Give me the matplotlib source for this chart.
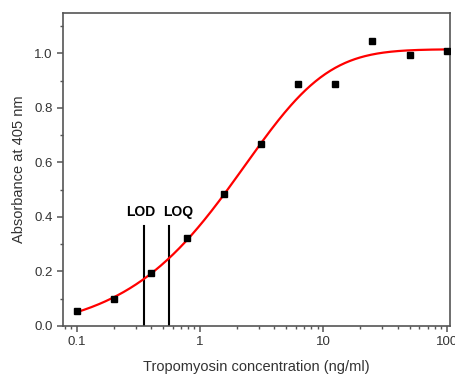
import numpy as np
import matplotlib
matplotlib.use('Agg')
import matplotlib.pyplot as plt
from matplotlib.ticker import LogLocator, MultipleLocator, FixedLocator, NullFormatter

plt.rcParams['font.family'] = ['Liberation Sans', 'DejaVu Sans']

# measured points
conc = [0.1, 0.2, 0.4, 0.78, 1.56, 3.125, 6.25, 12.5, 25, 50, 100]
absorb = [0.054, 0.099, 0.193, 0.321, 0.483, 0.667, 0.887, 0.887, 1.045, 0.994, 1.01]

# fitted curve (5-parameter logistic)
fit_bottom = -0.03
fit_top = 1.015
fit_mid = 13.785
fit_slope = 0.80
fit_asym = 4.169

# detection limits
lod = 0.353
loq = 0.564
limit_height = 0.367

def logistic5(x):
    return fit_top + (fit_bottom - fit_top) / (1 + (x / fit_mid) ** fit_slope) ** fit_asym

fig = plt.figure(figsize=(4.55, 3.75), dpi=100)
ax = fig.add_axes([63.3 / 455, 1 - 326 / 375, (450 - 63.3) / 455, (326 - 12.7) / 375])

xs = np.logspace(-1, 2, 300)
ax.plot(xs, logistic5(xs), color='red', lw=1.6, zorder=2)
ax.plot(conc, absorb, 's', color='black', ms=5, zorder=3)

ax.plot([lod, lod], [0, limit_height], color='black', lw=1.5, zorder=1)
ax.plot([loq, loq], [0, limit_height], color='black', lw=1.5, zorder=1)
ax.text(0.329, 0.417, 'LOD', ha='center', va='center', fontsize=10, fontweight='bold')
ax.text(0.661, 0.417, 'LOQ', ha='center', va='center', fontsize=10, fontweight='bold')

ax.set_xscale('log')
ax.set_xlim(0.0779, 106.5)
ax.set_ylim(0, 1.149)
ax.set_xticks([0.1, 1, 10, 100])
ax.set_xticklabels(['0.1', '1', '10', '100'])
ax.xaxis.set_minor_locator(LogLocator(base=10, subs=np.arange(2, 10), numticks=20))
ax.xaxis.set_minor_formatter(NullFormatter())
ax.yaxis.set_major_locator(FixedLocator([0, 0.2, 0.4, 0.6, 0.8, 1.0]))
ax.set_yticklabels(['0.0', '0.2', '0.4', '0.6', '0.8', '1.0'])
ax.yaxis.set_minor_locator(MultipleLocator(0.1))

for s in ax.spines.values():
    s.set_color('#555555')
    s.set_linewidth(1.2)
ax.tick_params(which='both', direction='out', color='#555555', labelcolor='#333333', labelsize=9.5)
ax.tick_params(which='major', length=4, width=1.1)
ax.tick_params(which='minor', length=2.5, width=1.0)

ax.set_xlabel('Tropomyosin concentration (ng/ml)', fontsize=10.5, color='#333333', labelpad=8)
ax.set_ylabel('Absorbance at 405 nm', fontsize=10.5, color='#333333', labelpad=6)

fig.savefig('out.png')
